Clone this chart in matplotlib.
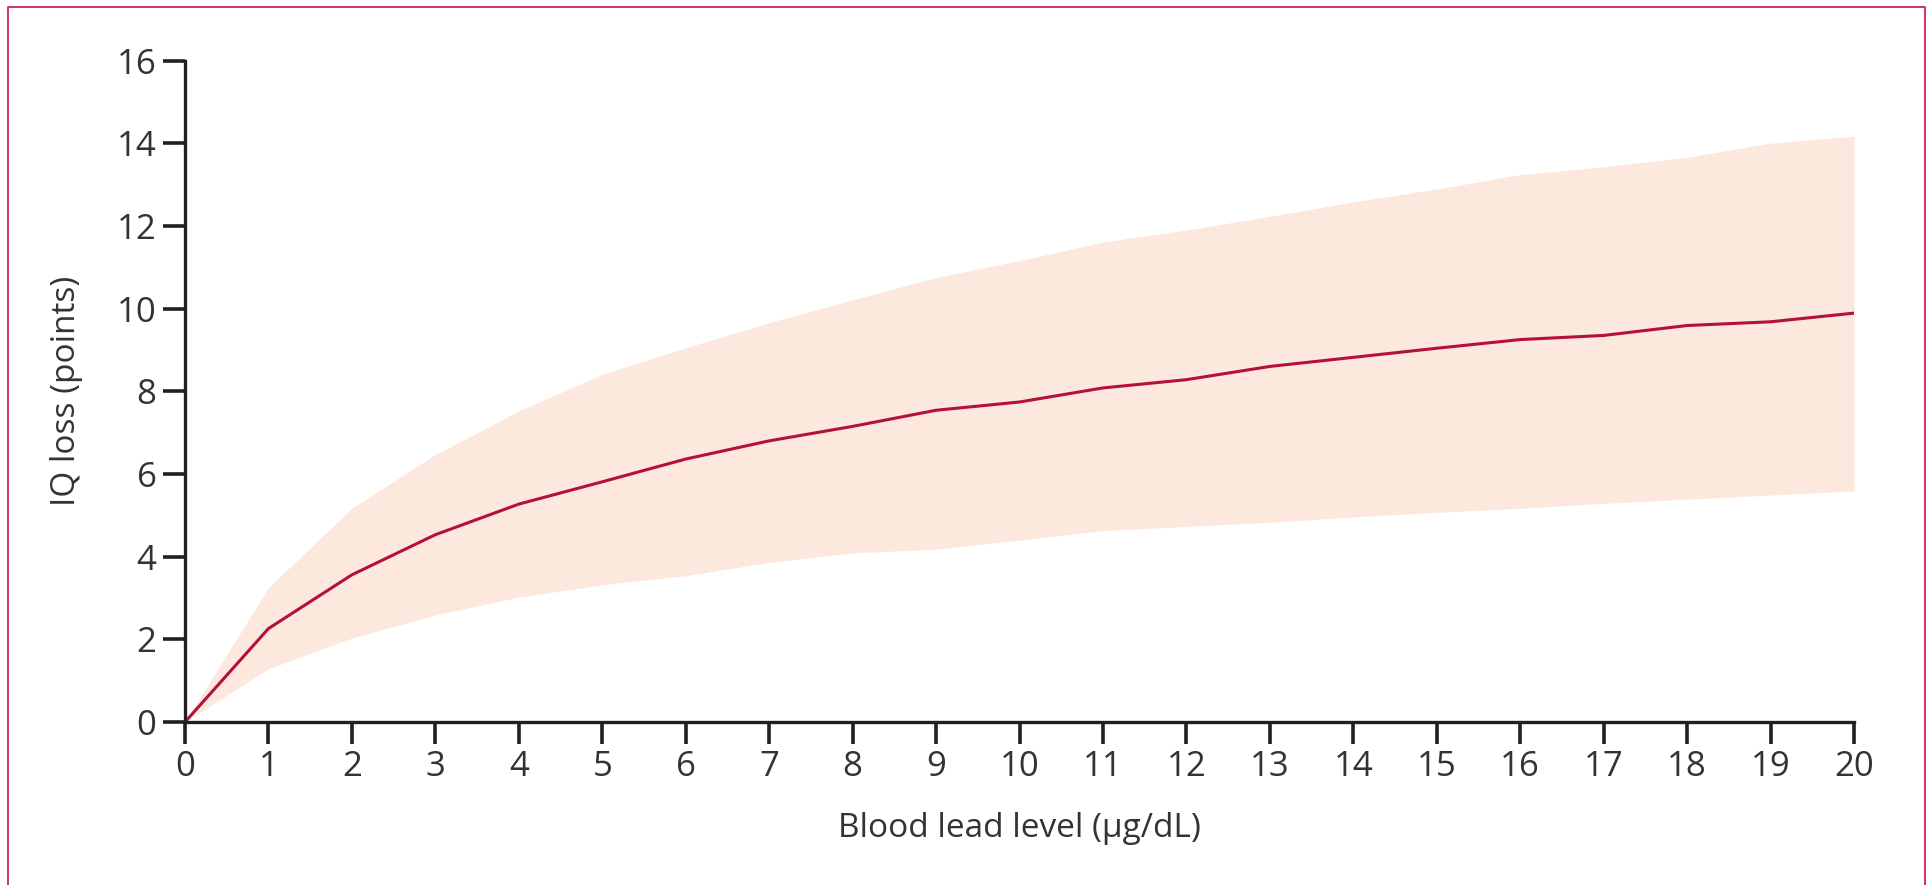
import numpy as np
import matplotlib.pyplot as plt
from matplotlib.lines import Line2D

# === Data ===
lead = list(range(0, 21))
iq_loss = [0.0, 2.26, 3.56, 4.53, 5.27, 5.81, 6.36, 6.80, 7.15, 7.54, 7.74,
           8.08, 8.28, 8.60, 8.82, 9.04, 9.25, 9.35, 9.59, 9.68, 9.89]
ci_upper = [0.0, 3.25, 5.17, 6.47, 7.52, 8.41, 9.05, 9.66, 10.21, 10.75, 11.16,
            11.61, 11.90, 12.23, 12.58, 12.89, 13.24, 13.43, 13.66, 14.00, 14.17]
ci_lower = [0.0, 1.29, 2.03, 2.59, 3.02, 3.32, 3.54, 3.86, 4.09, 4.18, 4.40,
            4.63, 4.73, 4.83, 4.96, 5.07, 5.17, 5.29, 5.39, 5.49, 5.59]
x_ticks = list(range(0, 21))
y_ticks = list(range(0, 17, 2))

TEXT = '#333333'
AXIS = '#231f20'
LINE = '#b5103c'
BAND = '#fce8dc'
FRAME = '#cc3366'

plt.rcParams['font.family'] = ['Open Sans', 'DejaVu Sans']

fig = plt.figure(figsize=(19.32, 8.85), dpi=100)
ax = fig.add_axes([185 / 1932, 1 - 722 / 885, (1854 - 185) / 1932, (722 - 60.5) / 885])

ax.fill_between(lead, ci_lower, ci_upper, color=BAND, linewidth=0)
ax.plot(lead, iq_loss, color=LINE, linewidth=2.2, solid_joinstyle='round')

ax.set_xlim(0, 20)
ax.set_ylim(0, 16)
ax.set_xticks(x_ticks)
ax.set_yticks(y_ticks)
for s in ['top', 'right']:
    ax.spines[s].set_visible(False)
for s in ['left', 'bottom']:
    ax.spines[s].set_linewidth(2.4)
    ax.spines[s].set_color(AXIS)
ax.tick_params(direction='out', length=15.5, width=2.6, color=AXIS,
               labelsize=25, labelcolor=TEXT, pad=5)

ax.set_xlabel('Blood lead level (µg/dL)', fontsize=24, color=TEXT, labelpad=20)
ax.set_ylabel('IQ loss (points)', fontsize=24, color=TEXT, labelpad=24)

# thin coloured frame round the panel (no bottom edge)
fx0, fx1 = 8 / 1932, 1925 / 1932
fy1 = 1 - 7 / 885
fig.add_artist(Line2D([fx0, fx0, fx1, fx1], [0, fy1, fy1, 0],
                      transform=fig.transFigure, color=FRAME, linewidth=1.4))

plt.savefig('out.png', dpi=100)
plt.close()
